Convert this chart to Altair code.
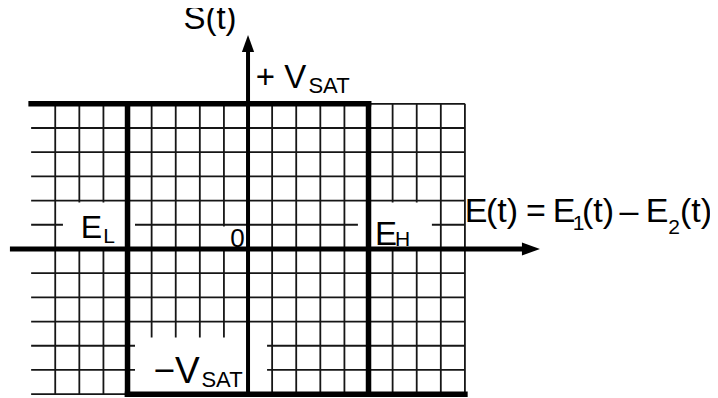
import altair as alt
import pandas as pd

# ---- diagram values (data units: one grid cell = 1) ----
grid_x = [-8, -7, -6, -4, -3, -2, -1, 1, 2, 3, 4, 6, 7, 8, 9]   # thin vertical grid lines
grid_y = [-5, -4, -3, -2, -1, 1, 2, 3, 4, 5]                    # thin horizontal grid lines
x_min, x_max = -9, 9
y_min, y_max = -6, 6
E_L, E_H = -5, 5          # switching thresholds
V_SAT = 6                 # saturation level

axis_x_ext = [-9.88, 11.74]   # horizontal axis E(t)
axis_y_ext = [-6.0, 8.49]     # vertical axis S(t)

# label boxes that blank the grid behind labels: x1, x2, y1, y2
box_x1 = [-7.68, -1.06, 4.56, -4.69]
box_x2 = [-4.69, 0.20, 7.63, 0.79]
box_y1 = [0.0, 0.02, 0.0, -5.96]
box_y2 = [1.92, 0.93, 1.92, -3.66]

# text pieces: text, x, y (baseline), font size
txt = ["S(t)", "+ V", "SAT", "E", "L", "0", "E", "H", "\u2212V", "SAT",
       "E", "(t)", "=", "E", "1", "(t)", "\u2013", "E", "2", "(t)"]
txt_x = [-1.577, 1.369, 3.361, -6.494, -5.768, -0.436, 5.726, 6.411, -2.967, -1.08,
         9.461, 10.539, 11.95, 13.112, 13.714, 14.523, 15.809, 16.971, 17.676, 18.589]
txt_y = [9.112, 6.653, 6.446, 0.455, 0.248, 0.083, 0.165, 0.103, -5.537, -5.702,
         1.116, 1.116, 1.116, 1.116, 0.785, 1.116, 1.116, 1.116, 0.62, 1.116]
txt_size = [33, 33, 22, 32, 21, 26, 33, 21, 37, 22,
            34, 34, 34, 34, 21, 34, 34, 34, 21, 34]

# ---- build tables ----
thin = []
for gx in grid_x:
    thin.append(dict(x1=gx, x2=gx, y1=y_min, y2=y_max))
for gy in grid_y:
    thin.append(dict(x1=x_min, x2=x_max, y1=gy, y2=gy))
thin.append(dict(x1=E_H, x2=x_max, y1=V_SAT, y2=V_SAT))
thin.append(dict(x1=x_min, x2=E_L, y1=-V_SAT, y2=-V_SAT))
df_thin = pd.DataFrame(thin)

df_thick = pd.DataFrame([
    dict(x1=x_min, x2=E_H, y1=V_SAT, y2=V_SAT),
    dict(x1=E_H, x2=E_H, y1=-V_SAT, y2=V_SAT),
    dict(x1=E_L, x2=E_L, y1=-V_SAT, y2=V_SAT),
    dict(x1=E_L, x2=x_max, y1=-V_SAT, y2=-V_SAT),
])

df_axes = pd.DataFrame([
    dict(x1=axis_x_ext[0], x2=axis_x_ext[1], y1=0, y2=0, sw=5),
    dict(x1=0, x2=0, y1=axis_y_ext[0], y2=axis_y_ext[1], sw=4),
])

df_arrows = pd.DataFrame([
    dict(x=axis_x_ext[1], y=0, shape="M1,0L-1,-0.72L-1,0.72Z", size=324),
    dict(x=0, y=axis_y_ext[1], shape="M0,-1L0.72,1L-0.72,1Z", size=289),
])

df_boxes = pd.DataFrame(dict(x1=box_x1, x2=box_x2, y1=box_y1, y2=box_y2))
df_text = pd.DataFrame(dict(t=txt, x=txt_x, y=txt_y, s=txt_size))

xs = alt.Scale(domain=[-9.96, 19.17], nice=False, zero=False)
ys = alt.Scale(domain=[-6.16, 9.96], nice=False, zero=False)

def seg_enc(ch):
    return ch.encode(
        x=alt.X("x1:Q", scale=xs, axis=None),
        x2="x2:Q",
        y=alt.Y("y1:Q", scale=ys, axis=None),
        y2="y2:Q",
    )

thin_layer = seg_enc(alt.Chart(df_thin).mark_rule(color="#161616", strokeWidth=1.8))
box_layer = seg_enc(alt.Chart(df_boxes).mark_rect(fill="white", strokeWidth=0))
thick_layer = seg_enc(alt.Chart(df_thick).mark_rule(color="black", strokeWidth=5.5, strokeCap="square"))
axes_layer = alt.Chart(df_axes).mark_rule(color="black").encode(
    x=alt.X("x1:Q", scale=xs, axis=None),
    x2="x2:Q",
    y=alt.Y("y1:Q", scale=ys, axis=None),
    y2="y2:Q",
    strokeWidth=alt.StrokeWidth("sw:Q", scale=None, legend=None),
)
arrow_layer = alt.Chart(df_arrows).mark_point(filled=True, color="black", opacity=1, strokeWidth=0).encode(
    x=alt.X("x:Q", scale=xs, axis=None),
    y=alt.Y("y:Q", scale=ys, axis=None),
    shape=alt.Shape("shape:N", scale=None, legend=None),
    size=alt.Size("size:Q", scale=None, legend=None),
)
text_layer = alt.Chart(df_text).mark_text(
    font="Liberation Sans", color="black", align="center", baseline="alphabetic"
).encode(
    x=alt.X("x:Q", scale=xs, axis=None),
    y=alt.Y("y:Q", scale=ys, axis=None),
    text="t:N",
    size=alt.Size("s:Q", scale=None, legend=None),
)

chart = alt.layer(
    thin_layer, box_layer, thick_layer, axes_layer, arrow_layer, text_layer
).properties(
    width=702, height=390, padding=0, autosize="none", background="white"
).configure_view(stroke=None)

chart.save("out.html", embed_options={"renderer": "svg", "actions": False})
